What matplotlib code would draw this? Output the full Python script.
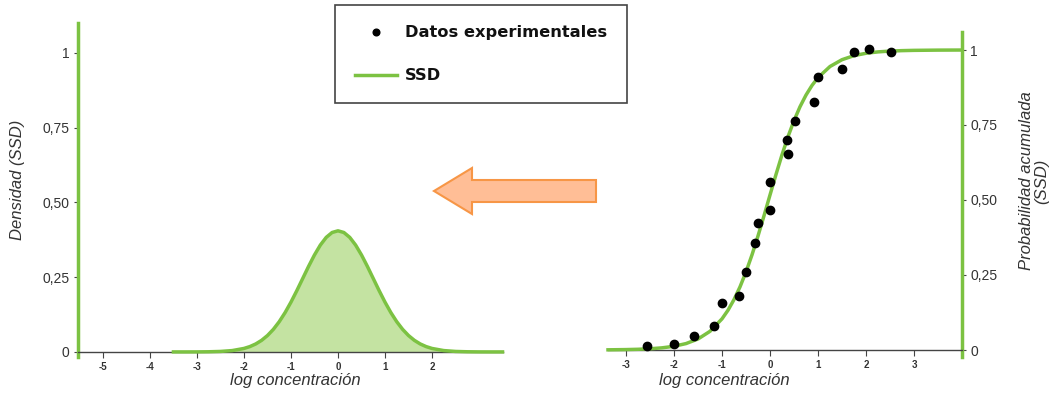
import matplotlib
matplotlib.use("Agg")
import matplotlib.pyplot as plt
from matplotlib.patches import FancyArrow

# ---- data ----
dens_x = [-3.5, -3.25, -3.0, -2.75, -2.5, -2.25, -2.0, -1.875, -1.75, -1.625, -1.5, -1.375, -1.25, -1.125,
          -1.0, -0.875, -0.75, -0.625, -0.5, -0.375, -0.25, -0.125, 0.0,
          0.125, 0.25, 0.375, 0.5, 0.625, 0.75, 0.875, 1.0, 1.125, 1.25, 1.375, 1.5, 1.625, 1.75, 1.875,
          2.0, 2.25, 2.5, 2.75, 3.0, 3.25, 3.5]
dens_y = [0.0, 0.0, 0.0001, 0.0005, 0.0016, 0.0045, 0.0116, 0.0178, 0.0266, 0.0387, 0.0548, 0.0754, 0.1010, 0.1315,
          0.1665, 0.2051, 0.2456, 0.2862, 0.3243, 0.3574, 0.3831, 0.3994, 0.405,
          0.3994, 0.3831, 0.3574, 0.3243, 0.2862, 0.2456, 0.2051, 0.1665, 0.1315, 0.1010, 0.0754, 0.0548, 0.0387,
          0.0266, 0.0178, 0.0116, 0.0045, 0.0016, 0.0005, 0.0001, 0.0, 0.0]

cdf_x = [-3.375, -3.0, -2.75, -2.5, -2.25, -2.0, -1.75, -1.5, -1.25, -1.0, -0.875, -0.75, -0.625, -0.5,
         -0.375, -0.25, -0.125, 0.0, 0.125, 0.25, 0.375, 0.5, 0.625, 0.75, 0.875, 1.0, 1.25, 1.5, 1.75,
         2.0, 2.25, 2.5, 2.75, 3.0, 3.5, 4.0]
cdf_y = [0.0006, 0.0014, 0.0024, 0.0041, 0.0072, 0.0124, 0.0214, 0.0367, 0.0623, 0.1038, 0.1326, 0.168, 0.2104,
         0.2603, 0.3172, 0.3801, 0.4474, 0.5167, 0.5851, 0.6507, 0.7110, 0.7645, 0.8109, 0.8498, 0.8819,
         0.9079, 0.9450, 0.9677, 0.9812, 0.9891, 0.9937, 0.9964, 0.9979, 0.9988, 0.9996, 0.9999]

obs_x = [-2.57, -2.01, -1.58, -1.17, -0.99, -0.64, -0.49, -0.32, -0.24, -0.01, 0.01, 0.37, 0.36, 0.53,
         0.92, 1.0, 1.5, 1.74, 2.06, 2.53]
obs_y = [0.013, 0.019, 0.047, 0.081, 0.156, 0.181, 0.26, 0.358, 0.422, 0.467, 0.561, 0.653, 0.70, 0.763,
         0.828, 0.911, 0.938, 0.993, 1.002, 0.993]

left_xticks = [-5, -4, -3, -2, -1, 0, 1, 2]
right_xticks = [-3, -2, -1, 0, 1, 2, 3]
yticks = [0, 0.25, 0.5, 0.75, 1]
ytick_labels = ["0", "0,25", "0,50", "0,75", "1"]

GREEN = "#7CC242"
FILL = "#C4E3A2"
TXT = "#333333"

plt.rcParams['font.family'] = ['Liberation Sans', 'DejaVu Sans']

W, H = 1059, 394
fig = plt.figure(figsize=(W / 100, H / 100), dpi=100)

# ---- left: density ----
axL = fig.add_axes([78 / W, (H - 357) / H, 425 / W, (357 - 23) / H])
axL.fill_between(dens_x, dens_y, 0, color=FILL, lw=0, zorder=2)
axL.plot(dens_x, dens_y, color=GREEN, lw=2.5, zorder=3, clip_on=False, solid_joinstyle="round")
axL.set_xlim(-5.53, 3.51)
axL.set_ylim(-0.017, 1.1)
for s in ["top", "right"]:
    axL.spines[s].set_visible(False)
axL.spines["left"].set_color(GREEN)
axL.spines["left"].set_linewidth(2.5)
axL.spines["bottom"].set_position(("data", 0))
axL.spines["bottom"].set_color("#444444")
axL.spines["bottom"].set_linewidth(1.0)
axL.set_xticks(left_xticks)
axL.set_xticklabels([str(t) for t in left_xticks], fontsize=7, fontweight="bold", color=TXT)
axL.set_yticks(yticks)
axL.set_yticklabels(ytick_labels, fontsize=10, color=TXT)
axL.tick_params(axis="x", direction="out", length=4, color="#444444", pad=3)
axL.tick_params(axis="y", direction="out", length=3, color="#444444", pad=3)

# ---- right: cumulative ----
axR = fig.add_axes([608 / W, (H - 356.9) / H, 354 / W, 324.9 / H])
line_ssd, = axR.plot(cdf_x, cdf_y, color=GREEN, lw=2.5, zorder=3, clip_on=False, solid_joinstyle="round")
pts = axR.scatter(obs_x, obs_y, s=36, color="black", zorder=4)
axR.set_xlim(-3.375, 4.0)
axR.set_ylim(-0.023, 1.06)
for s in ["top", "left"]:
    axR.spines[s].set_visible(False)
axR.spines["right"].set_color(GREEN)
axR.spines["right"].set_linewidth(2.5)
axR.spines["bottom"].set_position(("data", 0))
axR.spines["bottom"].set_color("#444444")
axR.spines["bottom"].set_linewidth(1.0)
axR.yaxis.tick_right()
axR.set_xticks(right_xticks)
axR.set_xticklabels([str(t) for t in right_xticks], fontsize=7, fontweight="bold", color=TXT)
axR.set_yticks(yticks)
axR.set_yticklabels(ytick_labels, fontsize=10, color=TXT)
axR.tick_params(axis="x", direction="out", length=4, color="#444444", pad=3)
axR.tick_params(axis="y", direction="out", length=3, color="#444444", pad=3)

# ---- labels ----
fig.text(295 / W, (H - 381) / H, "log concentración", fontsize=12, style="italic", color=TXT,
         ha="center", va="center")
fig.text(724 / W, (H - 381) / H, "log concentración", fontsize=12, style="italic", color=TXT,
         ha="center", va="center")
fig.text(18 / W, (H - 180) / H, "Densidad (SSD)", fontsize=12, style="italic", color=TXT,
         ha="center", va="center", rotation=90)
fig.text(1034 / W, (H - 181) / H, "Probabilidad acumulada\n(SSD)", fontsize=12, style="italic", color=TXT,
         ha="center", va="center", rotation=90, multialignment="center", linespacing=1.0)

# ---- legend ----
leg = fig.legend([pts, line_ssd], ["Datos experimentales", "SSD"], loc="upper left",
                 bbox_to_anchor=(335 / W, 1 - 5 / H), borderaxespad=0,
                 prop={"family": "DejaVu Sans", "weight": "bold", "size": 11.7},
                 fancybox=False, frameon=True, edgecolor="#444444",
                 handlelength=2.6, handletextpad=0.5, labelspacing=1.78, borderpad=1.2,
                 markerscale=0.8)
leg.get_frame().set_linewidth(1.2)
leg.get_frame().set_alpha(1)
for t in leg.get_texts():
    t.set_color("#111111")

# ---- arrow ----
arrow = FancyArrow(596 / 100, (H - 191) / 100, -162 / 100, 0, width=0.22, head_width=0.46,
                   head_length=0.38, length_includes_head=True, transform=fig.dpi_scale_trans,
                   fc="#FFBE96", ec="#F79646", lw=1.5)
fig.add_artist(arrow)

fig.savefig("out.png", dpi=100)
